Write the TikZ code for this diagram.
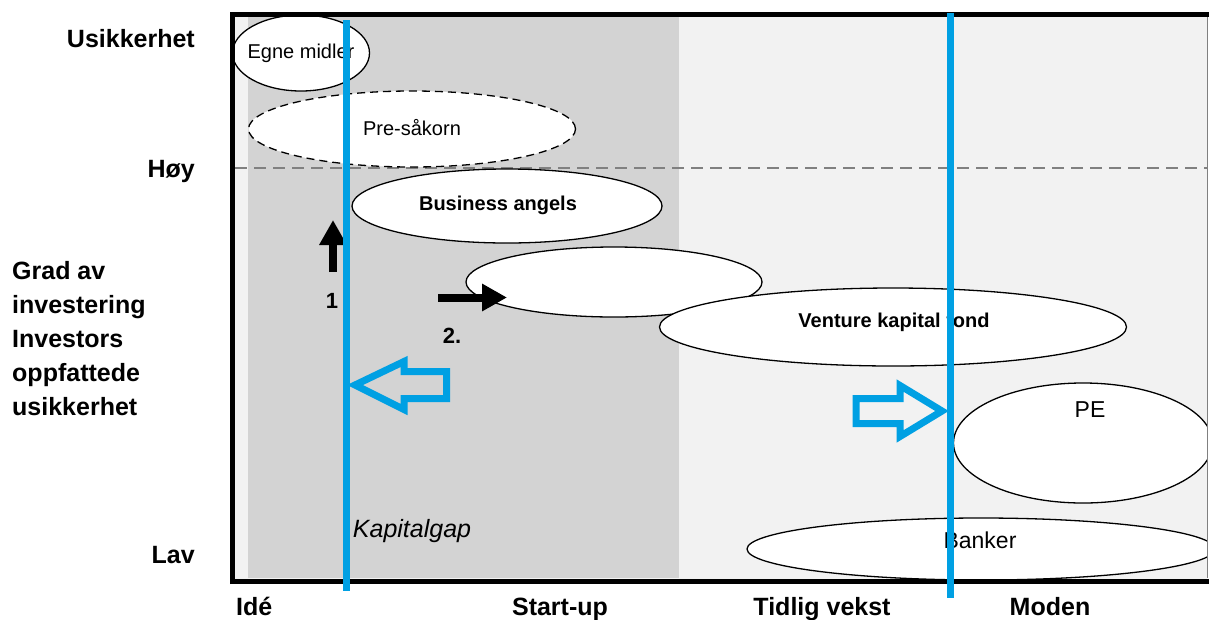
\documentclass[tikz,border=0pt]{standalone}
\usepackage{fontspec}
\setmainfont{Liberation Sans}
\usetikzlibrary{arrows.meta, shapes.geometric}
\definecolor{bggrey}{HTML}{F2F2F2}
\definecolor{gapgrey}{HTML}{D3D3D3}
\definecolor{kblue}{HTML}{00A0E3}
\newcommand{\fs}[1]{\fontsize{#1}{#1}\selectfont}

\begin{document}
\begin{tikzpicture}
[x=1pt, y=-1pt,
 fnd/.style={ellipse, draw=black, line width=1.3pt, fill=white, inner sep=0pt},
 txt/.style={inner sep=0pt, anchor=base, font=\fs{20}},
 btxt/.style={txt, font=\fs{20}\bfseries},
 axl/.style={inner sep=0pt, font=\fs{25}\bfseries},
 blu/.style={draw=kblue, line width=7pt},
 hollow/.style={draw=kblue, line width=7pt, line join=miter},
 ->/.style={line width=8pt, arrows={-Triangle[width=26pt, length=25pt]}}]
\useasboundingbox (0,0) rectangle (1209,619);

% background and capital gap
\fill[bggrey] (232,14) rectangle (1207,580);
\fill[gapgrey] (248,17) rectangle (679,578);
\draw[gray, line width=1.8pt, dash pattern=on 12pt off 7pt] (235,168) -- (1207,168);

% sources of finance
\begin{scope}
\clip (232,16) rectangle (1207,579);
\node[fnd, minimum width=137, minimum height=76] (egne) at (301,53) {};
\node[fnd, dash pattern=on 8pt off 5pt, minimum width=327, minimum height=76] (pre) at (412,129) {};
\node[fnd, minimum width=310, minimum height=74] (ba) at (507,206) {};
\node[fnd, minimum width=296, minimum height=70] (tom) at (614,282) {};
\node[fnd, minimum width=467, minimum height=78] (vk) at (893,327) {};
\node[fnd, minimum width=259, minimum height=120] (pe) at (1083,443) {};
\node[fnd, minimum width=468, minimum height=62] (bank) at (981,549) {};
\end{scope}

% frame
\draw[line width=5pt] (232.5,584) -- (232.5,14.5) -- (1209,14.5);
\draw[line width=5.5pt] (230,581.5) -- (1209,581.5);
\draw[gray, line width=1pt] (1207.5,17) -- (1207.5,578);

\node[txt] at (301,58) {Egne midler};
\node[txt] at (412,135) {Pre-såkorn};
\node[btxt] at (498,210) {Business angels};
\node[btxt] at (894,327) {Venture kapital fond};
\node[txt, font=\fs{23}] at (1090,417) {PE};
\node[txt, font=\fs{23}] at (980,548) {Banker};
\node[txt, font=\fs{25}\itshape] (gap) at (412,537) {Kapitalgap};

% steps 1 and 2
\coordinate (up0) at (333,272); \coordinate (up1) at (333,220);
\coordinate (rt0) at (438,297.5); \coordinate (rt1) at (507,297.5);
\draw[->] (up0) -- (up1);
\draw[->] (rt0) -- (rt1);
\node[txt, font=\fs{22}\bfseries] (s1) at (332,308) {1};
\node[txt, font=\fs{22}\bfseries] (s2) at (452,343) {2.};

% gap borders
\coordinate (b0) at (346.5,20); \coordinate (b1) at (346.5,591);
\coordinate (c0) at (950,13); \coordinate (c1) at (950,598);
\draw[blu] (b0) -- (b1);
\draw[blu] (c0) -- (c1);
\draw[hollow] (355,385) -- (404,361.5) -- (404,371.5) -- (446.5,371.5)
  -- (446.5,398.5) -- (404,398.5) -- (404,409.5) -- cycle;
\draw[hollow] (856,398.5) -- (900,398.5) -- (900,385.5) -- (942,411)
  -- (900,436.5) -- (900,423.5) -- (856,423.5) -- cycle;

% axis labels
\node[axl, anchor=base east] (usik) at (195,47) {Usikkerhet};
\node[axl, anchor=base east] (hoy) at (195,177) {Høy};
\node[axl, anchor=base east] (lav) at (195,563) {Lav};
\foreach \t [count=\i] in {Grad av, investering, Investors, oppfattede, usikkerhet}
  \node[axl, anchor=base west] (gr\i) at (12,245+34*\i) {\t};
\node[axl, anchor=base west] (ide) at (236,615) {Idé};
\node[axl, anchor=base] (start) at (560,615) {Start-up};
\node[axl, anchor=base] (tidlig) at (822,615) {Tidlig vekst};
\node[axl, anchor=base] (moden) at (1050,615) {Moden};
\end{tikzpicture}
\end{document}
